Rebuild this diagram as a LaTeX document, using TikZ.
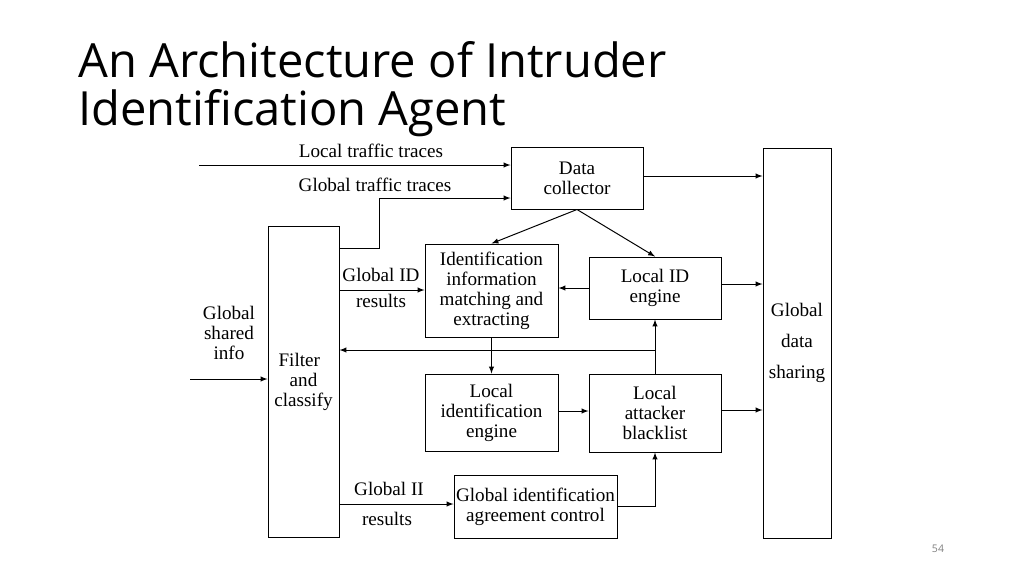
\documentclass[tikz,border=0pt]{standalone}
\usepackage{fontspec}
\setmainfont{Liberation Serif}
\newfontfamily\ttl{Open Sans}
\begin{document}
\begin{tikzpicture}[x=0.025cm,y=-0.025cm,
 box/.style={draw,line width=0.7pt,inner sep=0pt,font=\fontsize{13.6}{14.2}\selectfont,align=center},
 lbl/.style={font=\fontsize{13.6}{14.2}\selectfont,align=center,inner sep=0pt},
 arr/.style={-latex,line width=0.7pt}]
\useasboundingbox (0,0) rectangle (1024,575);
\node[anchor=base west,font=\ttl\fontsize{33.5}{33.5}\selectfont,align=left,inner sep=0pt] (title) at (78,125) {An Architecture of Intruder\\Identification Agent};
\node[font=\ttl\fontsize{7.5}{8}\selectfont,text=gray] (pg) at (938,549) {54};
\node[box,minimum width=132*0.025cm,minimum height=62*0.025cm] (dc) at (577,178) {Data\\collector};
\node[box,minimum width=68*0.025cm,minimum height=390*0.025cm] (gds) at (797,343) {Global\\[8pt]data\\[8pt]sharing};
\node[box,minimum width=71*0.025cm,minimum height=311*0.025cm] (fc) at (303.5,381.5) {\hspace*{-6pt}Filter\\and\\classify};
\node[box,minimum width=133*0.025cm,minimum height=93*0.025cm] (iim) at (491.5,290.5) {Identification\\ information\\matching and\\ extracting};
\node[box,minimum width=132*0.025cm,minimum height=62*0.025cm] (lid) at (655,288) {Local ID\\engine};
\node[box,minimum width=133*0.025cm,minimum height=77*0.025cm] (lie) at (491.5,412.5) {Local\\identification\\engine};
\node[box,minimum width=132*0.025cm,minimum height=78*0.025cm] (lab) at (655,413) {Local\\attacker\\blacklist};
\node[box,minimum width=163*0.025cm,minimum height=63*0.025cm] (giac) at (535.5,506.5) {Global identification\\agreement control};
\coordinate (lt0) at (199,165);
\coordinate (gs0) at (190,379);
\draw[arr] (lt0) -- (dc.west |- lt0);
\node[lbl] (ltl) at (371,151) {Local traffic traces};
\draw[arr] (fc.east |- 0,248) -- (379,248) -- (379,198) -- (dc.west |- 0,198);
\node[lbl] (gtl) at (375,185) {Global traffic traces};
\draw[arr] (dc.south) -- (iim.north);
\draw[arr] (dc.south) -- (lid.north);
\draw[arr] (dc.east |- 0,176) -- (gds.west |- 0,176);
\draw[arr] (fc.east |- 0,290) -- (iim.west |- 0,290);
\node[lbl] (gidl) at (381,275) {Global ID};
\node[lbl] (gidr) at (381,301) {results};
\draw[arr] (lid.west |- 0,288) -- (iim.east |- 0,288);
\draw[arr] (lid.east |- 0,284) -- (gds.west |- 0,284);
\draw[arr] (iim.south) -- (lie.north);
\draw[arr] (lab.north) -- (lid.south);
\draw[arr] (655,350) -- (fc.east |- 0,350);
\draw[arr] (lie.east |- 0,411) -- (lab.west |- 0,411);
\draw[arr] (lab.east |- 0,410) -- (gds.west |- 0,410);
\draw[arr] (fc.east |- 0,504) -- (giac.west |- 0,504);
\node[lbl] (g2l) at (389,489) {Global II};
\node[lbl] (g2r) at (387,519) {results};
\draw[arr] (giac.east |- 0,506) -- (655,506) -- (lab.south);
\draw[arr] (gs0) -- (fc.west |- gs0);
\node[lbl] (gsl) at (229,333) {Global\\shared\\info};
\end{tikzpicture}
\end{document}
